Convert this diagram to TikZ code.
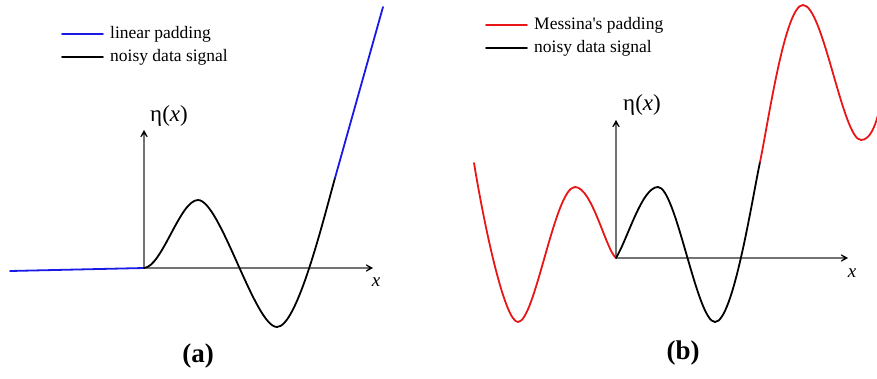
\documentclass[tikz,border=0pt]{standalone}
\usepackage{fontspec}
\setmainfont{Liberation Serif}
\usetikzlibrary{positioning,calc,arrows.meta}
\definecolor{padblue}{RGB}{25,25,230}
\definecolor{padred}{RGB}{232,22,22}
\definecolor{axisgray}{RGB}{115,115,115}

\begin{document}
\begin{tikzpicture}[x=1pt,y=-1pt,
		axis/.style={draw=axisgray,line width=1.1pt,-{Stealth[length=11pt,width=12pt,inset=7.5pt,color=black]}},
		signal/.style={line width=1.8pt,line cap=round},
		legtext/.style={anchor=west,inner sep=0pt,font=\fontsize{17.5}{20}\selectfont},
		axlabel/.style={inner sep=0pt,font=\fontsize{19}{22}\selectfont},
		etalabel/.style={inner sep=0pt,font=\fontsize{23}{26}\selectfont},
		panel/.style={inner sep=0pt,font=\fontsize{27}{30}\selectfont\bfseries}]
		\useasboundingbox (0,0) rectangle (877,378);
		% (a) linear padding
		\coordinate (oa) at (144,268);
		\coordinate (xa) at (373,268);
		\coordinate (ya) at (144,130);
		\draw[axis] (oa) -- (xa);
		\draw[axis] (oa) -- (ya);
		\node[axlabel] (xlaba) at (376,282) {\textit{x}};
		\node[etalabel] (etaa) at (169,116) {η(\textit{x})};
		\draw[signal,padblue] (10,271) -- (oa);
		\draw[signal] (oa) .. controls (162,267) and (180,200) .. (198,200)
			.. controls (220,200) and (255,327) .. (277,327)
			.. controls (297,327) and (323,221) .. (335,178);
		\draw[signal,padblue] (335,178) -- (383,7);
		\draw[signal,padblue] (62,34) -- (103,34);
		\node[legtext] (lina) at (110,34) {linear padding};
		\draw[signal] (62,57) -- (103,57);
		\node[legtext] (noisea) at (110,57) {noisy data signal};
		\node[panel] (capa) at (198,356) {(a)};
		% (b) Messina's padding
		\coordinate (ob) at (616,258);
		\coordinate (xb) at (848,258);
		\coordinate (yb) at (616,120);
		\draw[axis] (ob) -- (xb);
		\draw[axis] (ob) -- (yb);
		\node[axlabel] (xlabb) at (852,273) {\textit{x}};
		\node[etalabel] (etab) at (642,105) {η(\textit{x})};
		\draw[signal,padred] (474,163) .. controls (485,230) and (505,322) .. (518,322)
			.. controls (535,322) and (555,187) .. (575,187)
			.. controls (592,187) and (606,250) .. (ob);
		\draw[signal] (ob) .. controls (628,238) and (642,187) .. (658,187)
			.. controls (676,187) and (697,322) .. (715,322)
			.. controls (733,322) and (752,200) .. (760,162);
		\draw[signal,padred] (760,162) .. controls (768,124) and (785,5) .. (803,5)
			.. controls (823,5) and (843,140) .. (861,140)
			.. controls (870,140) and (875,126) .. (878,115);
		\draw[signal,padred] (486,25) -- (527,25);
		\node[legtext] (messb) at (534,25) {Messina\textquotesingle s padding};
		\draw[signal] (486,48) -- (527,48);
		\node[legtext] (noiseb) at (534,48) {noisy data signal};
		\node[panel] (capb) at (683,353) {(b)};
	\end{tikzpicture}
\end{document}
